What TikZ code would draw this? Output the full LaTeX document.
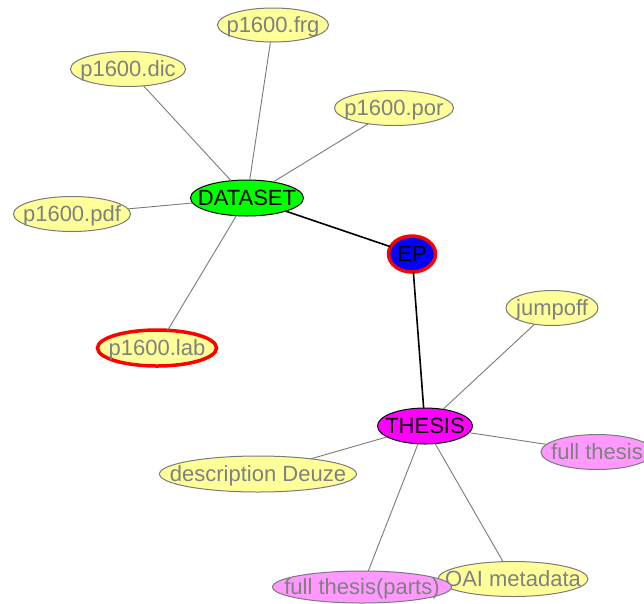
\documentclass[tikz,border=0pt]{standalone}
\usepackage{fontspec}
\setmainfont{Liberation Sans}
\usetikzlibrary{shapes.geometric}
\definecolor{leafyellow}{HTML}{FFFF99}
\definecolor{leafpink}{HTML}{FF99FF}
\definecolor{hubgreen}{HTML}{00FF00}
\definecolor{hubmagenta}{HTML}{FF00FF}
\definecolor{hubblue}{HTML}{0000FF}
\definecolor{leaftext}{HTML}{808080}
\definecolor{leafline}{HTML}{7A7A7A}
\tikzset{
  base/.style={ellipse, inner sep=0pt, outer sep=0pt, text height=15.5pt, text depth=0pt,
    font=\fontsize{22}{25}\selectfont},
  leaf/.style={base, draw=leafline, line width=1pt, fill=leafyellow, text=leaftext},
  pinkleaf/.style={leaf, fill=leafpink},
  redleaf/.style={leaf, draw=red, line width=3.5pt},
  hub/.style={base, draw=black, line width=1pt, text=black},
  thin/.style={draw=leafline, line width=0.9pt},
  thick/.style={draw=black, line width=1.6pt},
  sz/.style 2 args={minimum width=#1pt, minimum height=#2pt}
}
\newcommand{\lbl}[1]{\makebox[0pt]{#1}}
\begin{document}
\begin{tikzpicture}[x=1pt,y=-1pt]
\useasboundingbox (0,0) rectangle (644,603);
\clip (0,0) rectangle (644,603);
% nodes
\node[leaf, sz={111}{34}] (frg) at (273,25) {\lbl{p1600.frg}};
\node[leaf, sz={115}{35}] (dic) at (128,69) {\lbl{p1600.dic}};
\node[leaf, sz={119}{35}] (por) at (394,108) {\lbl{p1600.por}};
\node[leaf, sz={117}{35}] (pdf) at (72,214) {\lbl{p1600.pdf}};
\node[redleaf, sz={119}{36}] (lab) at (157,348) {\lbl{p1600.lab}};
\node[hub, fill=hubgreen, sz={113}{36}] (dataset) at (247,198) {\lbl{DATASET}};
\node[base, draw=red, line width=3.5pt, fill=hubblue, text=black, sz={47}{36}] (ep) at (412,254) {\lbl{EP}};
\node[leaf, sz={92}{35}] (jump) at (552,308) {\lbl{jumpoff}};
\node[hub, fill=hubmagenta, sz={95}{36}] (thesis) at (425,426) {\lbl{THESIS}};
\node[pinkleaf, sz={112}{35}] (full) at (597,452) {\lbl{full thesis}};
\node[leaf, sz={197}{36}] (desc) at (258,474) {\lbl{description Deuze}};
\node[leaf, sz={150}{35}] (oai) at (513,579) {\lbl{OAI metadata}};
\node[pinkleaf, sz={179}{32}] (parts) at (362,587) {\lbl{full thesis(parts)}};
% edges
\draw[thin] (dataset) -- (frg);
\draw[thin] (dataset) -- (dic);
\draw[thin] (dataset) -- (por);
\draw[thin] (dataset) -- (pdf);
\draw[thin] (dataset) -- (lab);
\draw[thick] (dataset) -- (ep);
\draw[thick] (ep) -- (thesis);
\draw[thin] (thesis) -- (jump);
\draw[thin] (thesis) -- (full);
\draw[thin] (thesis) -- (desc);
\draw[thin] (thesis) -- (oai);
\draw[thin] (thesis) -- (parts);
\end{tikzpicture}
\end{document}
